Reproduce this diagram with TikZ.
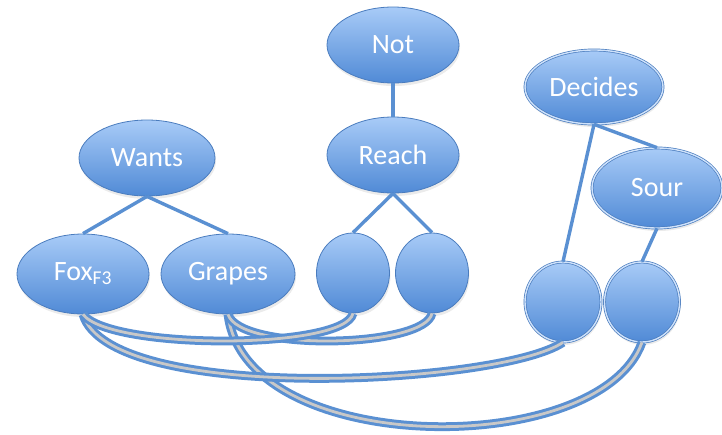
\documentclass[tikz,border=0pt]{standalone}
\usepackage{fontspec}
\setmainfont{Carlito}
\usepackage{xcolor}
\usepackage{tikz}
\usetikzlibrary{shapes.geometric,shadows}
\definecolor{nodetop}{RGB}{168,203,247}
\definecolor{nodebot}{RGB}{80,138,214}
\definecolor{nodeedge}{RGB}{74,124,190}
\definecolor{linkblue}{RGB}{90,144,210}
\definecolor{linkgray}{RGB}{200,200,200}

\begin{document}
\begin{tikzpicture}[x=1pt,y=-1pt,
  word/.style={ellipse,draw=nodeedge,line width=0.8pt,top color=nodetop,bottom color=nodebot,
    text=white,inner sep=0pt,font=\fontsize{28}{30}\selectfont,
    drop shadow={opacity=0.16,shadow xshift=1pt,shadow yshift=-3pt}},
  slot/.style={word,minimum width=73pt,minimum height=80pt},
  dbl/.style={double=nodetop!55!white,double distance=1.4pt,line width=0.7pt},
  arm/.style={draw=linkblue,line width=3.4pt},
  bindline/.style={draw=linkblue,line width=3pt,double=linkgray,double distance=2.8pt}]
\useasboundingbox (0,0) rectangle (722,434);
% ---------------- predicates ----------------
\node[word,minimum width=132pt,minimum height=76pt] (not) at (393,45) {Not};
\node[word,minimum width=132pt,minimum height=76pt] (reach) at (393,155) {Reach};
\node[word,minimum width=136pt,minimum height=76pt] (wants) at (147,158) {Wants};
\node[word,dbl,minimum width=138pt,minimum height=74pt] (decides) at (594,87) {Decides};
\node[word,dbl,minimum width=130pt,minimum height=80pt] (sour) at (657,188) {Sour};
% ---------------- arguments ----------------
\node[word,minimum width=132pt,minimum height=80pt] (fox) at (83,274) {Fox\textsubscript{F3}};
\node[word,minimum width=134pt,minimum height=80pt] (grapes) at (228,274) {Grapes};
\node[slot] (rl) at (353,273) {};
\node[slot] (rr) at (432,273) {};
\node[slot,dbl,minimum width=76pt] (dl) at (563,302) {};
\node[slot,dbl,minimum width=75pt] (dr) at (642,302) {};
% ---------------- tree arms ----------------
\draw[arm] (not.south) -- (reach.north);
\draw[arm] (wants.south) -- (fox.north);
\draw[arm] (wants.south) -- (grapes.north);
\draw[arm] (reach.south) -- (rl.north);
\draw[arm] (reach.south) -- (rr.north);
\draw[arm] (decides.south) -- (dl.north);
\draw[arm] (decides.south) -- (sour.north);
\draw[arm] (sour.south) -- (dr.north);
% ---------------- bindings ----------------
\draw[bindline] (grapes.south) .. controls (245,458) and (600,460) .. (dr.south);
\draw[bindline] (fox.south) .. controls (110,405) and (500,385) .. (dl.south);
\draw[bindline] (grapes.south) .. controls (240,352) and (425,348) .. (rr.south);
\draw[bindline] (fox.south) .. controls (110,350) and (345,350) .. (rl.south);
\end{tikzpicture}
\end{document}
